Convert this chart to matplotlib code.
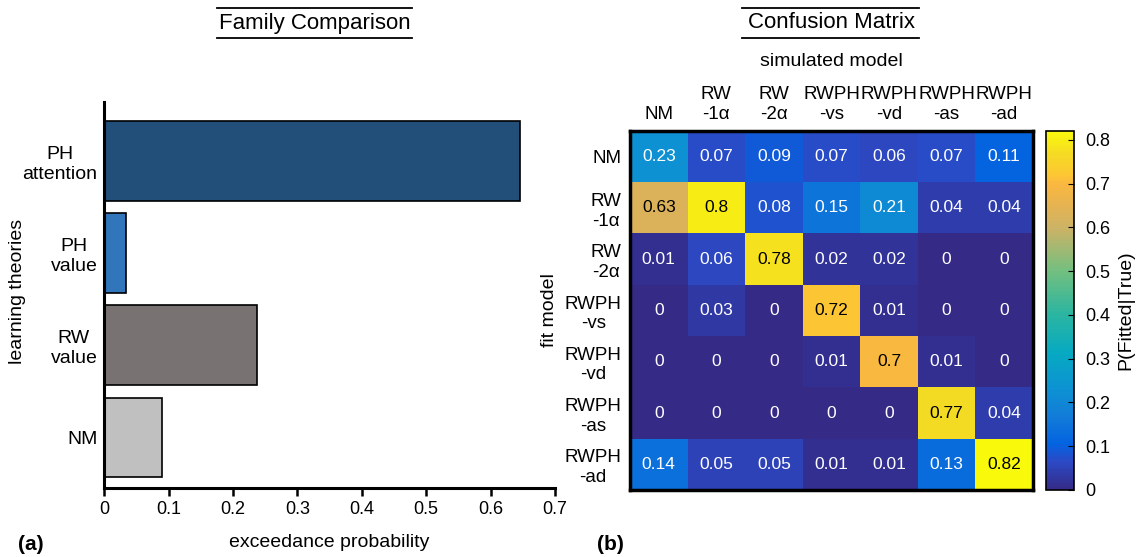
import numpy as np
import matplotlib
matplotlib.use("Agg")
import matplotlib.pyplot as plt
from matplotlib.colors import LinearSegmentedColormap
from matplotlib.lines import Line2D

plt.rcParams['font.family'] = ['Liberation Sans', 'DejaVu Sans']

#%% data

# panel (a): family comparison
families = ["NM", "RW\nvalue", "PH\nvalue", "PH\nattention"]
exceedance = [0.089, 0.237, 0.033, 0.645]
familyColors = ["#c0c0c0", "#787272", "#3175bb", "#224e7a"]
expTicks = [0, 0.1, 0.2, 0.3, 0.4, 0.5, 0.6, 0.7]

# panel (b): confusion matrix, rows = fit model, cols = simulated model
modelLabels = ["NM", "RW\n-1α", "RW\n-2α", "RWPH\n-vs", "RWPH\n-vd",
               "RWPH\n-as", "RWPH\n-ad"]
confusion = np.array([
    [0.23, 0.07, 0.09, 0.07, 0.06, 0.07, 0.11],
    [0.63, 0.80, 0.08, 0.15, 0.21, 0.04, 0.04],
    [0.01, 0.06, 0.78, 0.02, 0.02, 0.00, 0.00],
    [0.00, 0.03, 0.00, 0.72, 0.01, 0.00, 0.00],
    [0.00, 0.00, 0.00, 0.01, 0.70, 0.01, 0.00],
    [0.00, 0.00, 0.00, 0.00, 0.00, 0.77, 0.04],
    [0.14, 0.05, 0.05, 0.01, 0.01, 0.13, 0.82],
])
cbarTicks = [0, 0.1, 0.2, 0.3, 0.4, 0.5, 0.6, 0.7, 0.8]

# parula-like colormap (MATLAB default), upper part tuned to the figure
parulaAnchors = [
    (0.000, (0.2081, 0.1663, 0.5292)),
    (0.079, (0.1707, 0.2919, 0.7792)),
    (0.127, (0.0117, 0.3875, 0.8820)),
    (0.206, (0.0723, 0.4887, 0.8467)),
    (0.286, (0.0488, 0.5772, 0.8228)),
    (0.381, (0.0267, 0.6642, 0.7607)),
    (0.490, (0.1700, 0.7100, 0.6300)),
    (0.610, (0.4500, 0.7500, 0.5000)),
    (0.730, (0.8000, 0.7000, 0.4000)),
    (0.794, (0.9000, 0.7000, 0.3200)),
    (0.854, (0.9800, 0.7200, 0.2500)),
    (0.880, (0.9900, 0.7800, 0.2000)),
    (0.940, (0.9600, 0.8600, 0.1400)),
    (1.000, (0.9800, 0.9800, 0.0500)),
]
parula = LinearSegmentedColormap.from_list("parula", parulaAnchors)

#%% layout helpers (pixel boxes on a 1138x557 canvas)

W, H = 1138, 557

def pxBox(x0, y0, x1, y1):
    return [x0 / W, 1 - y1 / H, (x1 - x0) / W, (y1 - y0) / H]

def ruledTitle(fig, text, xc, x0, x1):
    fig.text(xc / W, 1 - 23 / H, text, ha='center', va='center', fontsize=16)
    for yy in (7.5, 37.5):
        fig.add_artist(Line2D([x0 / W, x1 / W], [1 - yy / H, 1 - yy / H],
                              color='black', lw=1.3))

fig = plt.figure(figsize=(W / 100, H / 100), dpi=100)

#%% (a) family comparison

ax1 = fig.add_axes(pxBox(104.3, 102, 555, 488))
ypos = np.arange(len(families))
ax1.barh(ypos, exceedance, height=0.86, color=familyColors,
         edgecolor='black', linewidth=1.2)
ax1.set_xlim(0, 0.7)
ax1.set_ylim(-0.553, 3.64)
ax1.set_xticks(expTicks)
ax1.set_xticklabels([f"{t:g}" for t in expTicks], fontsize=13)
ax1.set_yticks(ypos)
ax1.set_yticklabels(families, fontsize=14, multialignment='center')
ax1.tick_params(axis='y', length=0, pad=5)
ax1.tick_params(axis='x', length=6, width=1.8, direction='out', pad=3)
for side in ('top', 'right'):
    ax1.spines[side].set_visible(False)
for side in ('left', 'bottom'):
    ax1.spines[side].set_linewidth(2.2)
ax1.set_xlabel("exceedance probability", fontsize=14, labelpad=12)

fig.text(18 / W, 1 - 291 / H, "learning theories", rotation=90,
         ha='center', va='center', fontsize=14)
fig.text(18 / W, 1 - 545 / H, "(a)", fontweight='bold', fontsize=15,
         ha='left', va='center')
ruledTitle(fig, "Family Comparison", 315, 217, 412)

#%% (b) confusion matrix

ax2 = fig.add_axes(pxBox(630, 131, 1033, 490))
im = ax2.imshow(confusion, cmap=parula, vmin=0, vmax=confusion.max(),
                aspect='auto', interpolation='nearest')
for i in range(confusion.shape[0]):
    for j in range(confusion.shape[1]):
        v = confusion[i, j]
        ax2.text(j, i, f"{v:g}", ha='center', va='center', fontsize=12.5,
                 color='black' if v > 0.5 else 'white')
ax2.set_xticks(np.arange(len(modelLabels)))
ax2.set_xticklabels(modelLabels, fontsize=13.5, multialignment='center')
ax2.set_yticks(np.arange(len(modelLabels)))
ax2.set_yticklabels(modelLabels, fontsize=13.5, multialignment='center')
ax2.xaxis.tick_top()
ax2.tick_params(length=0, pad=6)
for sp in ax2.spines.values():
    sp.set_linewidth(2.5)
ax2.set_ylabel("fit model", fontsize=14, labelpad=5)

fig.text(831 / W, 1 - 62 / H, "simulated model", ha='center', va='center',
         fontsize=14)
fig.text(597 / W, 1 - 545 / H, "(b)", fontweight='bold', fontsize=15,
         ha='left', va='center')
ruledTitle(fig, "Confusion Matrix", 831, 742, 919)

cax = fig.add_axes(pxBox(1046, 131, 1074, 490))
cb = fig.colorbar(im, cax=cax, ticks=cbarTicks)
cb.ax.set_yticklabels([f"{t:g}" for t in cbarTicks], fontsize=13)
cb.ax.tick_params(direction='in', length=4, width=0.8, pad=8)
cb.outline.set_linewidth(1.2)
cb.set_label("P(Fitted|True)", fontsize=14, labelpad=5)

fig.savefig("out.png", dpi=100)
